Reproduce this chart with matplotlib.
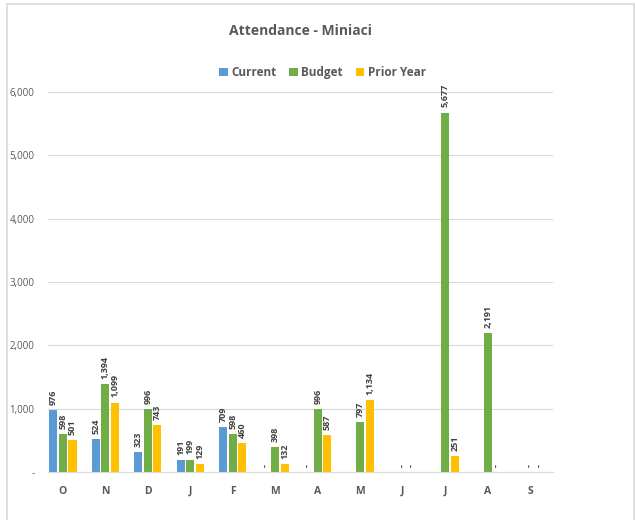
import matplotlib.pyplot as plt
import numpy as np
from matplotlib.patches import Rectangle
from matplotlib.ticker import FuncFormatter

months = ["O", "N", "D", "J", "F", "M", "A", "M", "J", "J", "A", "S"]
current = [976, 524, 323, 191, 709, 0, 0, None, None, None, None, None]
budget = [598, 1394, 996, 199, 598, 398, 996, 797, 0, 5677, 2191, 0]
prior_year = [501, 1099, 743, 129, 460, 132, 587, 1134, 0, 251, 0, 0]

series = [
    ("Current", current, "#5B9BD5"),
    ("Budget", budget, "#70AD47"),
    ("Prior Year", prior_year, "#FFC000"),
]

GRAY = "#595959"
plt.rcParams["font.family"] = ["Open Sans", "DejaVu Sans"]


def fmt_val(v):
    return "-" if v == 0 else f"{v:,.0f}"


fig = plt.figure(figsize=(6.35, 5.2), dpi=100)
ax = fig.add_axes([0.076, 0.092, 0.795, 0.731])

# chart border
fig.patches.append(Rectangle((7 / 635, -0.01), 627 / 635, 1 - 4 / 520 + 0.01,
                             transform=fig.transFigure, fill=False,
                             edgecolor="#D9D9D9", linewidth=1.2))

x = np.arange(len(months))
width = 0.19
offsets = [-0.225, 0.0, 0.225]

for (name, vals, color), off in zip(series, offsets):
    xs = [xi + off for xi, v in zip(x, vals) if v is not None]
    ys = [v for v in vals if v is not None]
    ax.bar(xs, ys, width=width, color=color, label=name, zorder=2)
    for xi, v in zip(xs, ys):
        ax.text(xi, v + 80, fmt_val(v), rotation=90, ha="center", va="bottom",
                fontsize=6.5, fontweight="bold", color="#404040")

ax.set_xlim(-0.346, 11.54)
ax.set_ylim(0, 6000)
ax.set_yticks(range(0, 6001, 1000))
ax.yaxis.set_major_formatter(FuncFormatter(lambda v, p: fmt_val(v)))
ax.set_xticks(x)
ax.set_xticklabels(months, fontweight="bold")
ax.tick_params(axis="x", length=0, pad=10, labelsize=7.5, colors=GRAY)
ax.tick_params(axis="y", length=0, pad=10, labelsize=7, colors=GRAY)
ax.grid(axis="y", color="#D9D9D9", linewidth=0.8, zorder=0)
for s in ["top", "right", "left"]:
    ax.spines[s].set_visible(False)
ax.spines["bottom"].set_color("#D9D9D9")

fig.text(0.474, 0.94, "Attendance - Miniaci", ha="center", va="center",
         fontsize=10, fontweight="bold", color=GRAY)
leg = fig.legend(loc="center", bbox_to_anchor=(0.508, 0.86), ncol=3, frameon=False,
                 handlelength=0.7, handleheight=0.7, handletextpad=0.3,
                 columnspacing=1.1, prop={"size": 8.5, "weight": "bold"})
for t in leg.get_texts():
    t.set_color(GRAY)

fig.savefig("out.png", dpi=100)
